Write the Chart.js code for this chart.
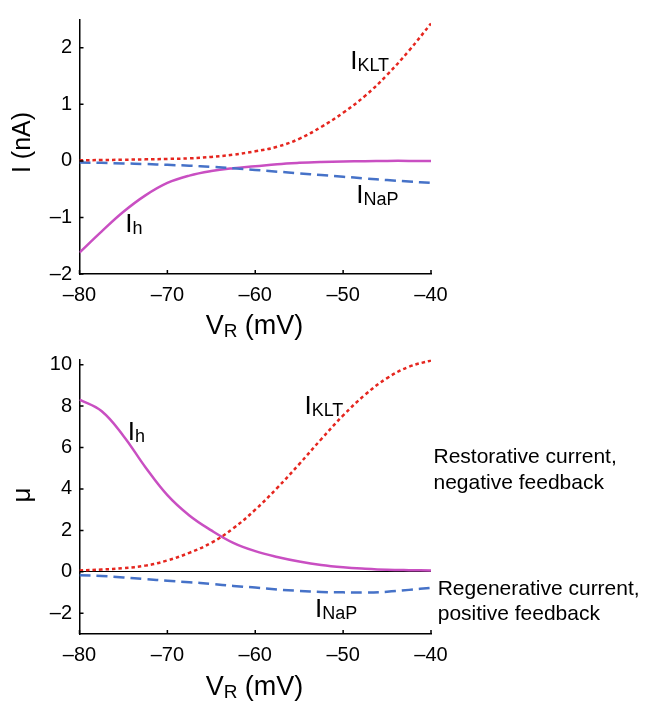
<!DOCTYPE html>
<html>
<head>
<meta charset="utf-8">
<script src="https://cdn.jsdelivr.net/npm/chart.js@4.4.1/dist/chart.umd.min.js"></script>
<style>
  body { margin: 0; background: #fff; width: 654px; height: 710px; overflow: hidden; }
  .panel { position: absolute; left: 0; width: 654px; }
</style>
</head>
<body>
<div class="panel" style="top:0;height:340px"><canvas id="chartTop" width="654" height="340"></canvas></div>
<div class="panel" style="top:340px;height:370px"><canvas id="chartBot" width="654" height="370"></canvas></div>
<script>
// membrane potential (mV)
const vR = [-80, -77.5, -75, -72.5, -70, -67.5, -65, -62.5, -60, -57.5, -55, -52.5, -50, -47.5, -45, -42.5, -40]

// top panel: steady-state currents (nA)
const iKLT = [0.01, 0.015, 0.02, 0.027, 0.035, 0.045, 0.07, 0.11, 0.17, 0.25, 0.39, 0.6, 0.85, 1.15, 1.52, 1.95, 2.43]
const iNaP = [-0.03, -0.035, -0.045, -0.055, -0.07, -0.085, -0.105, -0.13, -0.16, -0.19, -0.22, -0.25, -0.28, -0.31, -0.34, -0.365, -0.39]
const iH   = [-1.62, -1.25, -0.9, -0.61, -0.39, -0.26, -0.18, -0.13, -0.095, -0.058, -0.035, -0.02, -0.01, -0.005, 0, 0, 0]

// bottom panel: mu
const muKLT = [0.07, 0.11, 0.18, 0.3, 0.55, 0.92, 1.4, 2.1, 3.0, 4.05, 5.2, 6.4, 7.55, 8.55, 9.35, 9.9, 10.2]
const muNaP = [-0.16, -0.2, -0.27, -0.35, -0.43, -0.5, -0.58, -0.68, -0.76, -0.85, -0.92, -0.97, -0.99, -1.0, -0.96, -0.87, -0.77]
const muH   = [8.32, 7.76, 6.56, 5.05, 3.7, 2.72, 2.0, 1.4, 1.0, 0.72, 0.5, 0.33, 0.22, 0.15, 0.1, 0.08, 0.07]

const xTicks = [-80, -70, -60, -50, -40]
const topYTicks = [-2, -1, 0, 1, 2]
const botYTicks = [-2, 0, 2, 4, 6, 8, 10]

const FONT = '"Liberation Sans", Arial, Helvetica, sans-serif'
const RED = '#e5261f'
const BLUE = '#4672c8'
const MAGENTA = '#c94fc2'

function pts(ys) {
  return vR.map((x, i) => ({ x: x, y: ys[i] }))
}

function minusLabel(v) {
  return v < 0 ? '\u2013' + (-v) : String(v)
}

function line(label, ys, color, dash) {
  return {
    label: label,
    data: pts(ys),
    borderColor: color,
    borderWidth: 2.5,
    borderDash: dash,
    pointRadius: 0,
    tension: 0.4,
    fill: false
  }
}

// inward ticks, curve labels, axis titles
function drawSub(ctx, x, y, main, sub, size, subSize, drop) {
  ctx.font = size + 'px ' + FONT
  ctx.fillText(main, x, y)
  const w = ctx.measureText(main).width
  ctx.font = subSize + 'px ' + FONT
  ctx.fillText(sub, x + w, y + drop)
}

function decorPlugin(cfg) {
  return {
    id: 'decor',
    afterDraw(chart) {
      const ctx = chart.ctx
      const sx = chart.scales.x, sy = chart.scales.y
      const area = chart.chartArea
      ctx.save()
      ctx.strokeStyle = '#000'
      ctx.lineWidth = 1.5
      ctx.beginPath()
      xTicks.forEach(v => {
        const p = sx.getPixelForValue(v)
        ctx.moveTo(p, area.bottom)
        ctx.lineTo(p, area.bottom - 4)
      })
      cfg.yTicks.forEach(v => {
        const p = sy.getPixelForValue(v)
        ctx.moveTo(area.left, p)
        ctx.lineTo(area.left + 4, p)
      })
      ctx.stroke()

      ctx.fillStyle = '#000'
      ctx.textAlign = 'left'
      ctx.textBaseline = 'alphabetic'
      cfg.labels.forEach(l => {
        drawSub(ctx, sx.getPixelForValue(l.x), sy.getPixelForValue(l.y), 'I', l.sub, 26, 18, 2)
      })

      // x title with subscript
      ctx.font = '27px ' + FONT
      const wV = ctx.measureText('V').width
      ctx.font = '19px ' + FONT
      const wR = ctx.measureText('R').width
      ctx.font = '27px ' + FONT
      const wRest = ctx.measureText(' (mV)').width
      const tx = cfg.xTitleCenter - (wV + wR + wRest) / 2
      ctx.fillText('V', tx, cfg.xTitleBase)
      ctx.font = '19px ' + FONT
      ctx.fillText('R', tx + wV, cfg.xTitleBase + 3)
      ctx.font = '27px ' + FONT
      ctx.fillText(' (mV)', tx + wV + wR, cfg.xTitleBase)

      // y title, rotated
      ctx.save()
      ctx.translate(29.5, cfg.yTitleCenter)
      ctx.rotate(-Math.PI / 2)
      ctx.textAlign = 'center'
      ctx.font = cfg.yTitleSize + 'px ' + FONT
      ctx.fillText(cfg.yTitle, 0, 0)
      ctx.restore()

      // side notes
      if (cfg.notes) {
        ctx.font = '21px ' + FONT
        cfg.notes.forEach(n => {
          ctx.fillText(n.text, area.right + n.dx, sy.getPixelForValue(n.y))
        })
      }
      ctx.restore()
    }
  }
}

function makeOptions(yMin, yMax, yStep, xAxisHeight, topPad, zeroLine) {
  return {
    responsive: false,
    animation: false,
    events: [],
    layout: { padding: { top: topPad, right: 223, left: 0, bottom: 0 } },
    plugins: { legend: { display: false }, tooltip: { enabled: false } },
    scales: {
      x: {
        type: 'linear',
        min: -80,
        max: -40,
        grid: { display: false, drawTicks: false },
        border: { display: true, color: '#000', width: 1.5 },
        ticks: {
          stepSize: 10,
          includeBounds: false,
          maxRotation: 0,
          padding: 9,
          color: '#000',
          font: { family: FONT, size: 20 },
          callback: minusLabel
        },
        afterFit: s => { s.height = xAxisHeight }
      },
      y: {
        type: 'linear',
        min: yMin,
        max: yMax,
        grid: {
          display: zeroLine,
          drawTicks: false,
          lineWidth: 1,
          color: c => (c.tick && c.tick.value === 0 ? '#000' : 'rgba(0,0,0,0)')
        },
        border: { display: true, color: '#000', width: 1.5 },
        ticks: {
          stepSize: yStep,
          includeBounds: false,
          padding: 7.5,
          color: '#000',
          font: { family: FONT, size: 20 },
          callback: minusLabel
        },
        afterFit: s => { s.width = 79.5 }
      }
    }
  }
}

new Chart(document.getElementById('chartTop'), {
  type: 'line',
  data: {
    datasets: [
      line('IKLT', iKLT, RED, [3.5, 3]),
      line('INaP', iNaP, BLUE, [11, 6]),
      line('Ih', iH, MAGENTA, [])
    ]
  },
  options: makeOptions(-2, 2.5, 1, 66, 10.5, false),
  plugins: [decorPlugin({
    yTicks: topYTicks,
    labels: [
      { x: -49.2, y: 1.62, sub: 'KLT' },
      { x: -48.5, y: -0.74, sub: 'NaP' },
      { x: -74.8, y: -1.25, sub: 'h' }
    ],
    xTitleCenter: 254.5,
    xTitleBase: 334,
    yTitle: 'I (nA)',
    yTitleSize: 25,
    yTitleCenter: 142.5
  })]
})

new Chart(document.getElementById('chartBot'), {
  type: 'line',
  data: {
    datasets: [
      line('IKLT', muKLT, RED, [3.5, 3]),
      line('INaP', muNaP, BLUE, [11, 6]),
      line('Ih', muH, MAGENTA, [])
    ]
  },
  options: makeOptions(-3, 10.25, 2, 76, 19.5, true),
  plugins: [decorPlugin({
    yTicks: botYTicks,
    labels: [
      { x: -54.4, y: 7.6, sub: 'KLT' },
      { x: -53.2, y: -2.18, sub: 'NaP' },
      { x: -74.5, y: 6.36, sub: 'h' }
    ],
    xTitleCenter: 254.5,
    xTitleBase: 355,
    yTitle: '\u03bc',
    yTitleSize: 26,
    yTitleCenter: 155,
    notes: [
      { text: 'Restorative current,', dx: 2.5, y: 5.23 },
      { text: 'negative feedback', dx: 2.5, y: 3.99 },
      { text: 'Regenerative current,', dx: 6.7, y: -1.14 },
      { text: 'positive feedback', dx: 6.7, y: -2.34 }
    ]
  })]
})
</script>
</body>
</html>
